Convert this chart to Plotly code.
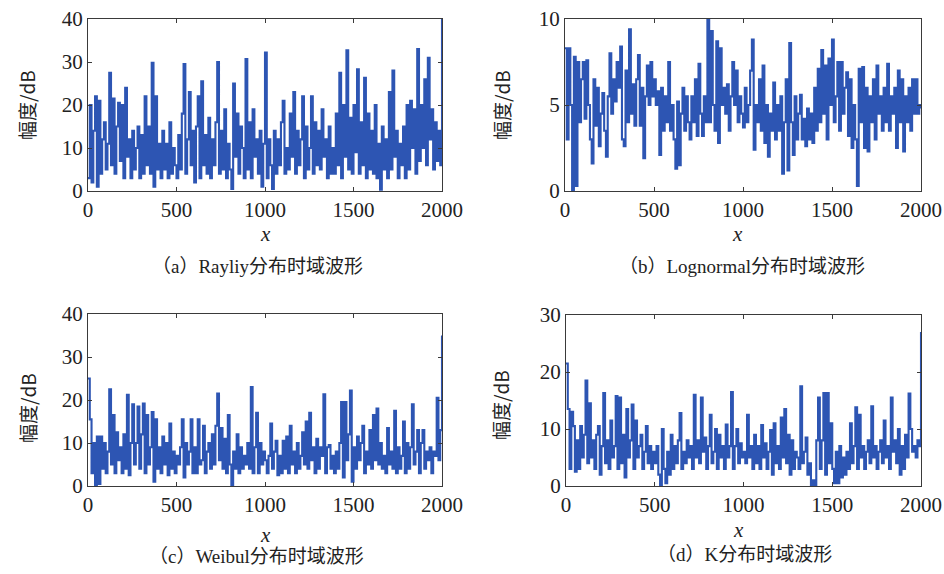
import plotly.graph_objects as go

x_step = 10
x_end = 2000

# (a) Rayleigh
rayleigh = [3, 20, 2, 14, 22, 1, 21, 4, 12, 16,
            5, 11, 27.5, 6, 21.5, 4, 15, 20.5, 7, 20,
            3, 24, 8, 12, 3, 14, 5, 10, 15, 3,
            13, 4, 22, 6, 15, 4, 29.8, 1, 22, 5,
            11, 3, 14, 5, 11, 3, 16, 4, 10, 6,
            3, 13, 5, 18, 29.5, 4, 12, 23, 6, 14,
            2, 15, 22, 3, 25.5, 6, 13, 4, 17, 3,
            12, 6, 16, 30, 4, 14, 5, 19, 3, 11,
            5, 0.5, 25, 8, 18, 4, 15, 10, 3, 30.7,
            5, 16, 3, 19, 8, 12, 4, 14, 1, 11,
            32.2, 3, 12, 6, 0.5, 14, 4, 12, 6, 16,
            21, 4, 10, 5, 18, 8, 23, 4, 14, 6,
            12, 22, 3, 15, 5, 10, 22, 4, 16, 6,
            14, 5, 19, 8, 12, 3, 15, 4, 10, 4,
            18, 6, 27.5, 3, 20, 8, 32.7, 5, 17, 4,
            20, 9, 28.3, 4, 16, 6, 26.3, 3, 18, 5,
            14, 4, 20, 3, 11, 0.3, 15, 5, 12, 3,
            23, 5, 28, 8, 14, 3, 11, 6, 15, 3,
            20, 5, 21, 10, 19, 4, 33, 7, 20, 10,
            26, 6, 31, 12, 19, 5, 16, 7, 14, 6,
            40]

# (b) Lognormal
lognormal = [8.3, 3, 8.3, 5, 0, 7.8, 0.3, 7.5, 4, 6.5,
             7.5, 4.2, 7.6, 5, 3, 1.6, 6.5, 3.8, 6, 2.6,
             4.5, 5.7, 3.5, 2, 5.5, 8, 4.5, 6.5, 5.2, 7.5,
             6, 8.4, 3, 2.6, 7, 4, 9.4, 4.5, 6.2, 3.8,
             6.5, 7.9, 3.8, 6, 1.9, 5.5, 7.3, 5, 7.5, 5.5,
             6.5, 5, 5.8, 2.1, 6, 3.5, 5.5, 4, 7.5, 3.5,
             5, 3, 1.3, 5.2, 1.5, 4.5, 6, 3.5, 5.5, 4,
             3, 5.5, 4, 6.5, 3.2, 7.4, 4.5, 3.2, 5.5, 4,
             10, 4, 9.3, 5, 3.5, 8.7, 2.8, 8.3, 5, 6,
             4.5, 6.2, 3.5, 5.5, 7.5, 5, 7, 4, 5.5, 4.5,
             3.7, 6, 4, 5, 7, 8.8, 2.4, 5, 4, 6.5,
             3.5, 7.3, 2.8, 5, 2, 4.5, 3.5, 6.3, 3, 5,
             3.5, 5.5, 1.0, 4, 6.5, 1.2, 8.6, 4, 2.1, 5.5,
             3, 4.5, 5.6, 3, 4.2, 2.6, 4.8, 3, 4.5, 2.8,
             6, 3.5, 7.1, 4, 8.2, 4.5, 7.3, 3, 7.7, 5,
             8.8, 4, 5.5, 7.5, 3.5, 7.5, 4.5, 6, 6.9, 3.2,
             6.5, 2.5, 5, 3, 0.3, 7.1, 4, 7.2, 2.5, 6,
             2.3, 5.5, 4, 6.5, 3, 7.3, 4.5, 5.5, 3.5, 6,
             4, 7.4, 3.5, 5.5, 4.5, 6, 2.5, 7, 4, 6.5,
             2.3, 5.5, 4, 6, 3.5, 6.5, 4.5, 6.5, 4.5, 5,
             4.8]

# (c) Weibull
weibull = [25, 15.5, 3, 10, 0, 11.5, 0.5, 11.5, 4, 10,
           3, 8, 22.5, 5, 16.5, 3, 12.5, 6, 9, 3,
           12, 4, 21.2, 2.5, 10, 19, 5, 10, 18.5, 4,
           12, 19.2, 3, 16.5, 5, 9, 17.2, 1, 15.5, 4,
           9, 3, 11.5, 5, 10, 2.5, 14.5, 4, 8, 3,
           7, 5, 9, 15.5, 2, 10, 5, 8, 15.5, 3,
           9, 3, 15.5, 5, 6, 14, 3, 8, 10, 4,
           12, 5, 14, 21.5, 6, 13.5, 4, 11, 3, 16.5,
           5, 0, 8, 4, 12, 3, 9, 4, 7, 5,
           10, 4, 23, 3, 9, 17, 3, 10, 5, 8,
           6, 3, 7, 14.5, 4, 8, 10.5, 2.5, 7, 3,
           10.5, 4, 11.5, 3, 14, 5, 8, 3, 10, 4,
           7, 12.5, 5, 15, 4, 17, 6, 9, 3, 11,
           4, 9, 7, 21.3, 3, 9, 9.5, 4, 7, 3,
           8, 4, 10, 19.5, 2, 19.5, 6, 12, 22.2, 1,
           9, 4, 11.5, 6, 10, 14, 3, 8, 5, 13,
           4, 16.5, 6, 18, 5, 10, 4, 7, 3, 13.5,
           5, 8, 4, 17.5, 3, 9, 4, 7, 15, 3,
           10, 4, 9, 19, 5, 8, 13, 3, 10, 13,
           4, 8, 6, 9, 3, 8, 7, 20.5, 6, 13,
           35]

# (d) K
k_dist = [21.5, 13.5, 3, 13, 10.5, 2.5, 8, 3, 10.5, 5,
          9, 18.5, 4, 14.5, 5, 8, 3, 9, 10.5, 2,
          7, 16.3, 4, 8, 3, 11.5, 5, 7, 15.8, 3,
          15.5, 4, 9, 1.5, 13.5, 5, 8, 14.3, 3, 11.5,
          5, 7, 9, 3, 6, 10.5, 4, 7, 3, 6,
          4, 7, 2, 0, 10, 3, 0.5, 6, 2, 9,
          3, 7, 4, 8, 12.8, 3, 6, 4, 8, 5,
          7, 3, 16, 5, 8, 4, 15.5, 6, 8.5, 3,
          7, 12.5, 4, 6, 10, 3, 9, 5, 7, 3,
          10.8, 5, 7, 16.5, 3, 7, 10, 4, 7.5, 5,
          6, 4, 12.5, 5, 7, 3, 9, 4, 7, 3,
          10.7, 5, 7.5, 3, 6, 9.8, 2, 11, 4, 7,
          3, 12, 5, 13.5, 4, 9, 2, 8, 3, 6,
          5, 3, 17.5, 4, 6, 8.5, 2, 4, 0, 1,
          0, 8, 15.5, 3, 8, 16.3, 2, 16.3, 4, 11,
          3, 0.5, 6, 0.5, 7, 1.5, 5, 2, 6, 3,
          11, 4, 7, 13.8, 3, 12.5, 5, 7, 3, 6,
          8, 4, 14, 5, 7, 3, 6, 8, 4, 11.5,
          5, 7, 3, 15.5, 6, 8, 4, 10, 2, 7,
          3, 9, 5, 16.2, 10, 6, 7, 5, 8, 7,
          27]

series = [rayleigh, lognormal, weibull, k_dist]
captions = ["（a）Rayliy分布时域波形", "（b）Lognormal分布时域波形",
            "（c）Weibul分布时域波形", "（d）K分布时域波形"]
y_ranges = [[0, 40], [0, 10], [0, 40], [0, 30]]
y_dticks = [10, 5, 10, 10]
x_ticks = [0, 500, 1000, 1500, 2000]

W, H = 944, 574
# panel boxes in pixels: left, right, top, bottom
boxes = [(88, 442, 19, 191), (565, 921, 19, 191),
         (88, 442, 314, 486), (566, 921, 315, 486)]
ylab_pos = [(27, 105), (502, 105), (27, 408), (500, 405)]
xlab_pos = [(265, 234), (737, 234), (265, 535), (738, 530)]
cap_pos = [(257, 266), (742, 266), (256, 556), (744, 554)]

line_color = "#2d55b3"
fig = go.Figure()
serif = "Liberation Serif, Times New Roman, serif"

for i, ys in enumerate(series):
    xs = [j * x_step for j in range(len(ys))]
    xs[-1] = x_end
    sfx = "" if i == 0 else str(i + 1)
    fig.add_trace(go.Scatter(x=xs, y=ys, mode="lines", line=dict(color=line_color, width=2.1, shape="hv"),
                             xaxis="x" + sfx, yaxis="y" + sfx, showlegend=False, hoverinfo="skip"))
    l, r, t, b = boxes[i]
    common = dict(showline=True, linecolor="#3a3a3a", linewidth=1, mirror="ticks", ticks="inside",
                  ticklen=4, tickcolor="#3a3a3a", showgrid=False, zeroline=False, automargin=False,
                  tickfont=dict(family=serif, size=21, color="#222"))
    fig.update_layout(**{
        "xaxis" + sfx: dict(domain=[l / W, r / W], anchor="y" + sfx, range=[0, 2000],
                            tickvals=x_ticks, ticktext=[str(v) for v in x_ticks], **common),
        "yaxis" + sfx: dict(domain=[1 - b / H, 1 - t / H], anchor="x" + sfx, range=y_ranges[i],
                            dtick=y_dticks[i], tick0=0, **common),
    })
    ann = dict(xref="paper", yref="paper", showarrow=False, xanchor="center", yanchor="middle")
    fig.add_annotation(x=ylab_pos[i][0] / W, y=1 - ylab_pos[i][1] / H, text="幅度/dB", textangle=-90,
                       font=dict(family="Noto Sans CJK SC, sans-serif", size=19, color="#222"), **ann)
    fig.add_annotation(x=xlab_pos[i][0] / W, y=1 - xlab_pos[i][1] / H, text="<i>x</i>",
                       font=dict(family=serif, size=21, color="#222"), **ann)
    fig.add_annotation(x=cap_pos[i][0] / W, y=1 - cap_pos[i][1] / H, text=captions[i],
                       font=dict(family="Liberation Serif, Noto Sans CJK SC", size=19, color="#222"), **ann)

fig.update_layout(width=W, height=H, margin=dict(l=0, r=0, t=0, b=0),
                  paper_bgcolor="white", plot_bgcolor="white")
fig.write_html("out.html", config={"displayModeBar": False},
               post_script="document.body.style.margin='0';document.body.style.overflow='hidden';")
